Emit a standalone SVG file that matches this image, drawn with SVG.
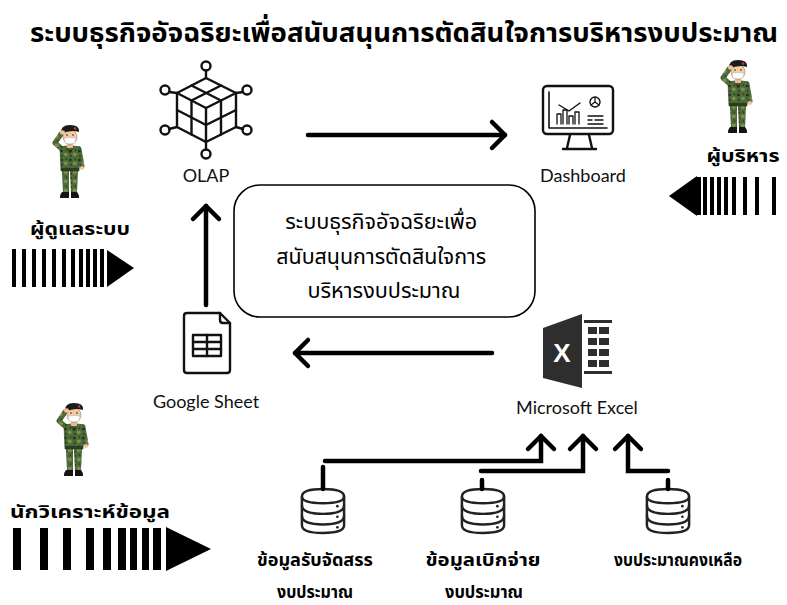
<svg xmlns="http://www.w3.org/2000/svg" width="787" height="605" viewBox="0 0 787 605">
  <style>
    .th { font-family: "Noto Sans Thai", "Leelawadee UI", Tahoma, "Noto Sans", sans-serif; fill: #000; }
    .lat { font-family: Lato, "Open Sans", "Liberation Sans", sans-serif; font-size: 18px; fill: #111; }
    .b { font-weight: bold; }
    .ico { fill: none; stroke: #111; stroke-width: 2.4; stroke-linecap: round; stroke-linejoin: round; }
    .wire { fill: none; stroke: #000; stroke-width: 4.5; stroke-linecap: round; stroke-linejoin: miter; }
    .bar { fill: #000; }
  </style>
  <defs>
    <marker id="chev" markerUnits="userSpaceOnUse" markerWidth="30" markerHeight="34" refX="16" refY="16" orient="auto" overflow="visible">
      <path d="M3 3 L16 16 L3 29" fill="none" stroke="#000" stroke-width="4.5" stroke-linecap="round" stroke-linejoin="round"/>
    </marker>
    <pattern id="camo" patternUnits="userSpaceOnUse" width="9" height="9">
      <rect width="9" height="9" fill="#4d6b38"/>
      <path d="M0 1 Q2 0 3 2 Q2 4 0 3 Z" fill="#22301a"/>
      <path d="M4 4 Q7 3 8 5 Q7 8 5 7 Q3 6 4 4 Z" fill="#7f8d4c"/>
      <path d="M6 0 Q8 1 7 2 Q5 2 6 0 Z" fill="#2a3a1f"/>
      <path d="M1 6 Q3 5 3 7 Q2 9 1 8 Z" fill="#33461f"/>
    </pattern>
    <!-- saluting soldier with beret and face mask -->
    <symbol id="soldier" viewBox="0 0 36 80">
      <path d="M11 49 L18 49 L18 71 L12 71 Z" fill="url(#camo)"/>
      <path d="M19 49 L27 49 L26 71 L20 71 Z" fill="url(#camo)"/>
      <path d="M11 70 H18 V76 H9 Q9 72 11 70 Z" fill="#141414"/>
      <path d="M20 70 H26 Q28 72 28 76 H20 Z" fill="#141414"/>
      <path d="M9 25 Q19 22 29 25 L28 49 L10 49 Z" fill="url(#camo)" stroke="#26341b" stroke-width="0.6"/>
      <path d="M16 25 L19 31 L22 25" fill="none" stroke="#1f2b16" stroke-width="0.8"/>
      <rect x="10" y="46" width="18" height="3" fill="#2d3b22"/>
      <path d="M28 27 L31 44" stroke="url(#camo)" stroke-width="5" stroke-linecap="round"/>
      <circle cx="31" cy="46" r="2" fill="#f2c39a"/>
      <rect x="16" y="20" width="6" height="6" fill="#e9b98f"/>
      <ellipse cx="19" cy="15" rx="7" ry="7.5" fill="#f4cba3" stroke="#9a6a45" stroke-width="0.5"/>
      <path d="M10 12 Q9 3 19 3 Q29 3 28 10 Q20 7 10 12 Z" fill="#1b1b1b"/>
      <circle cx="24" cy="6.5" r="1.3" fill="#c0392b"/>
      <circle cx="16" cy="13" r="0.8" fill="#222"/>
      <circle cx="22" cy="13" r="0.8" fill="#222"/>
      <path d="M13 16 Q19 15 25 16 L24 21 Q19 23 14 21 Z" fill="#fff" stroke="#b8b8b8" stroke-width="0.6"/>
      <path d="M11 27 L4 21 L10 12" fill="none" stroke="url(#camo)" stroke-width="5" stroke-linecap="round" stroke-linejoin="round"/>
      <ellipse cx="11.5" cy="10.5" rx="2.6" ry="2.2" fill="#f2c39a"/>
    </symbol>
    <!-- stacked database cylinder -->
    <symbol id="db" viewBox="0 0 48 50" overflow="visible">
      <path d="M2 10 Q2 2 24 2 Q46 2 46 10 V40 Q46 48 24 48 Q2 48 2 40 Z" fill="#fff" stroke="#222" stroke-width="2.6"/>
      <path d="M2 10 Q2 17 24 17 Q46 17 46 10" fill="none" stroke="#222" stroke-width="2.6"/>
      <path d="M2 19 Q2 28 24 28 Q46 28 46 19" fill="none" stroke="#222" stroke-width="2.6"/>
      <path d="M2 30 Q2 39 24 39 Q46 39 46 30" fill="none" stroke="#222" stroke-width="2.6"/>
      <circle cx="39" cy="20" r="1.4" fill="#222"/>
      <circle cx="39" cy="31" r="1.4" fill="#222"/>
      <circle cx="39" cy="42" r="1.4" fill="#222"/>
    </symbol>
  </defs>

  <rect width="787" height="605" fill="#fff"/>

  <text class="th b" x="404" y="42" font-size="27" text-anchor="middle" textLength="748" lengthAdjust="spacingAndGlyphs">ระบบธุรกิจอัจฉริยะเพื่อสนับสนุนการตัดสินใจการบริหารงบประมาณ</text>

  <!-- OLAP cube -->
  <g id="olap">
    <g class="ico">
      <path d="M206 78 L177 93 L206 108 L236 93 Z"/>
      <path d="M177 93 V127 L206 142 L236 127 V93"/>
      <path d="M206 108 V142"/>
      <path d="M191.5 85.5 L221 100.5 M221 85.5 L191.5 100.5"/>
      <path d="M191.5 100.5 V134.5 M177 110 L206 125 L236 110 M221 100.5 V134.5"/>
      <path d="M206 70.5 V78 M169 92 L177 93 M243 92 L236 93 M169 129 L177 127 M243 129 L236 127 M206 142 V149.5"/>
      <circle cx="206" cy="66" r="4.5"/>
      <circle cx="165" cy="90" r="4.5"/>
      <circle cx="247" cy="90" r="4.5"/>
      <circle cx="165" cy="130" r="4.5"/>
      <circle cx="247" cy="130" r="4.5"/>
      <circle cx="206" cy="154" r="4.5"/>
    </g>
    <text class="lat" x="206" y="182" text-anchor="middle">OLAP</text>
  </g>

  <!-- Dashboard monitor -->
  <g id="dashboard">
    <g class="ico" stroke-width="2">
      <rect x="543" y="86" width="70" height="48" rx="4"/>
      <path d="M549 92 V128 H607" stroke-width="1.6"/>
      <path d="M570 135 L567 148 M589 135 L592 148 M563 149 H596"/>
      <path d="M557 124 V114 H561 V124 M563 124 V110 H567 V124 M569 124 V116 H573 V124 M575 124 V112 H579 V124" stroke-width="1.3"/>
      <path d="M559 105 L569 111 L580 103" stroke-width="1.4"/>
      <circle cx="595" cy="102" r="5" stroke-width="1.4"/>
      <path d="M595 97 V102 L599 105 M595 102 L591 105" stroke-width="1.2"/>
      <path d="M588 116 H603 M588 120 H592 M595 120 H603 M588 124 H603" stroke-width="1.3"/>
    </g>
    <text class="lat" x="583" y="182" text-anchor="middle">Dashboard</text>
  </g>

  <!-- central system box -->
  <g id="system">
    <rect x="234" y="185" width="301" height="132" rx="26" fill="none" stroke="#000" stroke-width="1.6"/>
    <text class="th" font-size="21" text-anchor="middle">
      <tspan x="384" y="229" textLength="192" lengthAdjust="spacingAndGlyphs">ระบบธุรกิจอัจฉริยะเพื่อ</tspan>
      <tspan x="384" y="264" textLength="210" lengthAdjust="spacingAndGlyphs">สนับสนุนการตัดสินใจการ</tspan>
      <tspan x="384" y="298" textLength="153" lengthAdjust="spacingAndGlyphs">บริหารงบประมาณ</tspan>
    </text>
  </g>

  <!-- Google Sheet document -->
  <g id="google-sheet">
    <g class="ico" stroke-width="2.2">
      <path d="M187 313 H220 L230 323 V370 Q230 373 227 373 H187 Q184 373 184 370 V316 Q184 313 187 313 Z"/>
      <path d="M220 313 V320 Q220 323 223 323 H230"/>
      <rect x="193" y="335" width="28" height="21"/>
      <path d="M207 335 V356 M193 342 H221 M193 349 H221"/>
    </g>
    <text class="lat" x="206" y="408" text-anchor="middle">Google Sheet</text>
  </g>

  <!-- Microsoft Excel logo -->
  <g id="excel">
    <path d="M543 328 L582 314 V388 L543 378 Z" fill="#2e2e2e"/>
    <text x="562" y="362" font-family="Liberation Sans, sans-serif" font-weight="bold" font-size="26" fill="#fff" text-anchor="middle">X</text>
    <g fill="#2e2e2e">
      <rect x="588" y="327" width="9" height="7"/>
      <rect x="599" y="327" width="10" height="7"/>
      <rect x="588" y="338" width="9" height="7"/>
      <rect x="599" y="338" width="10" height="7"/>
      <rect x="588" y="349" width="9" height="7"/>
      <rect x="599" y="349" width="10" height="7"/>
      <rect x="588" y="360" width="9" height="7"/>
      <rect x="599" y="360" width="10" height="7"/>
      <rect x="584" y="320" width="28" height="3"/>
      <rect x="584" y="371" width="28" height="3"/>
    </g>
    <text class="lat" x="577" y="414" text-anchor="middle">Microsoft Excel</text>
  </g>

  <!-- data sources -->
  <g id="db-allocation">
    <use href="#db" x="300" y="487" width="46" height="48"/>
    <text class="th b" font-size="17" text-anchor="middle"><tspan x="315" y="566" textLength="116" lengthAdjust="spacingAndGlyphs">ข้อมูลรับจัดสรร</tspan><tspan x="315" y="598" textLength="76" lengthAdjust="spacingAndGlyphs">งบประมาณ</tspan></text>
  </g>
  <g id="db-disbursement">
    <use href="#db" x="460" y="487" width="46" height="48"/>
    <text class="th b" font-size="17" text-anchor="middle"><tspan x="483" y="566" textLength="115" lengthAdjust="spacingAndGlyphs">ข้อมูลเบิกจ่าย</tspan><tspan x="484" y="598" textLength="78" lengthAdjust="spacingAndGlyphs">งบประมาณ</tspan></text>
  </g>
  <g id="db-remaining">
    <use href="#db" x="645" y="487" width="46" height="48"/>
    <text class="th b" font-size="17" text-anchor="middle" x="678" y="566" textLength="128" lengthAdjust="spacingAndGlyphs">งบประมาณคงเหลือ</text>
  </g>

  <!-- people -->
  <g id="admin">
    <use href="#soldier" x="51" y="122" width="36" height="80"/>
    <text class="th b" font-size="18" x="80" y="235" text-anchor="middle" textLength="100" lengthAdjust="spacingAndGlyphs">ผู้ดูแลระบบ</text>
    <g class="bar">
      <rect x="12" y="249" width="4" height="38"/>
      <rect x="22" y="249" width="4" height="38"/>
      <rect x="32" y="249" width="4" height="38"/>
      <rect x="42" y="249" width="4" height="38"/>
      <rect x="52" y="249" width="4" height="38"/>
      <rect x="62" y="249" width="4" height="38"/>
      <rect x="71" y="249" width="4" height="38"/>
      <rect x="79" y="249" width="4" height="38"/>
      <rect x="86" y="249" width="4" height="38"/>
      <rect x="93" y="249" width="4" height="38"/>
      <rect x="100" y="249" width="4" height="38"/>
      <path d="M107 250 L134 268 L107 287 Z"/>
    </g>
  </g>
  <g id="executive">
    <use href="#soldier" x="719" y="57" width="36" height="80"/>
    <text class="th b" font-size="18" x="743" y="162" text-anchor="middle" textLength="73" lengthAdjust="spacingAndGlyphs">ผู้บริหาร</text>
    <g class="bar">
      <path d="M669 196 L697 176 L697 216 Z"/>
      <rect x="697" y="177" width="4" height="38"/>
      <rect x="703" y="177" width="4" height="38"/>
      <rect x="710" y="177" width="4" height="38"/>
      <rect x="717" y="177" width="4" height="38"/>
      <rect x="724" y="177" width="4" height="38"/>
      <rect x="732" y="177" width="4" height="38"/>
      <rect x="743" y="177" width="4" height="38"/>
      <rect x="755" y="177" width="4" height="38"/>
      <rect x="772" y="177" width="4" height="38"/>
    </g>
  </g>
  <g id="analyst">
    <use href="#soldier" x="55" y="400" width="36" height="80"/>
    <text class="th b" font-size="18" x="90" y="518" text-anchor="middle" textLength="160" lengthAdjust="spacingAndGlyphs">นักวิเคราะห์ข้อมูล</text>
    <g class="bar">
      <rect x="13" y="528" width="8" height="42"/>
      <rect x="40" y="528" width="8" height="42"/>
      <rect x="63" y="528" width="8" height="42"/>
      <rect x="86" y="528" width="8" height="42"/>
      <rect x="103" y="528" width="8" height="42"/>
      <rect x="118" y="528" width="8" height="42"/>
      <rect x="130" y="528" width="7" height="42"/>
      <rect x="142" y="528" width="7" height="42"/>
      <rect x="153" y="528" width="8" height="42"/>
      <path d="M166 527 L211 549 L166 571 Z"/>
    </g>
  </g>

  <!-- data flow connectors -->
  <g id="connectors">
    <path class="wire" d="M308 135 H505" marker-end="url(#chev)"/>
    <path class="wire" d="M206 305 V206" marker-end="url(#chev)"/>
    <path class="wire" d="M492 353 H295" marker-end="url(#chev)"/>
    <path class="wire" d="M323 467 V489"/>
    <path class="wire" d="M325 461 H541 V436" marker-end="url(#chev)"/>
    <path class="wire" d="M482 480 V489"/>
    <path class="wire" d="M481 471 H583 V436" marker-end="url(#chev)"/>
    <path class="wire" d="M668 480 V489"/>
    <path class="wire" d="M668 471 H628 V436" marker-end="url(#chev)"/>
  </g>
</svg>
